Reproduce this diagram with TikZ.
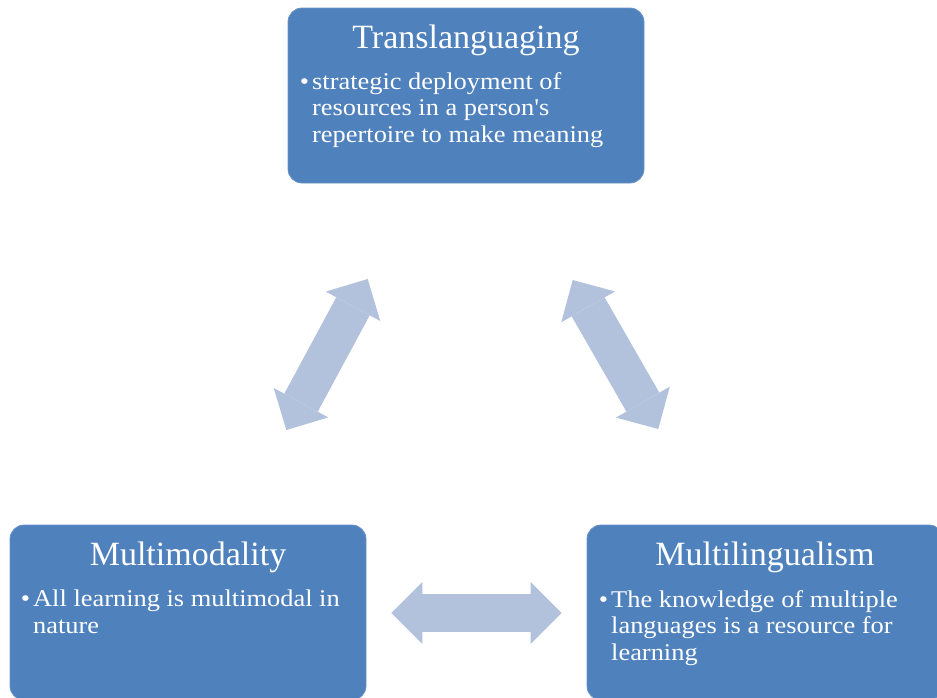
\documentclass[tikz,border=0pt]{standalone}
\usepackage{fontspec}
\setmainfont{Liberation Serif}
\newfontfamily\pointfont{Liberation Serif}[FakeStretch=1.1]
\usetikzlibrary{arrows.meta}
\definecolor{boxblue}{HTML}{4F81BD}
\definecolor{boxedge}{HTML}{6A94C8}
\definecolor{linkblue}{HTML}{B2C2DD}
\tikzset{
topic/.style={draw=boxedge, line width=0.8pt, fill=boxblue, rounded corners=14pt,
  minimum width=356pt, minimum height=175pt, inner sep=0pt},
heading/.style={text=white, font=\fontsize{34}{40}\selectfont, anchor=base, inner sep=0pt},
point/.style={text=white, font=\pointfont\fontsize{24}{26.5}\selectfont, align=left,
  anchor=north west, inner sep=0pt},
link/.style={linkblue, line width=38pt,
  {Triangle[width=62pt,length=31pt,line width=0pt]}-{Triangle[width=62pt,length=31pt,line width=0pt]}}
}
\newcommand{\bulletmark}{\llap{\textbullet\hspace{3pt}}}

\begin{document}
\begin{tikzpicture}[x=1pt,y=-1pt]
\useasboundingbox (0,0) rectangle (937,697);

% the three boxes
\node[topic] (trans) at (466,95.5) {};
\node[topic] (modal) at (188,612.5) {};
\node[topic] (lingual) at (765,612.5) {};

\node[heading] (transhead) at (466,48) {Translanguaging};
\node[heading] (modalhead) at (188,565) {Multimodality};
\node[heading] (lingualhead) at (765,565) {Multilingualism};

\node[point] (transtext) at (312,72) {\bulletmark strategic deployment of\\
  resources in a person's\\repertoire to make meaning};
\node[point] (modaltext) at (33,590) {\bulletmark All learning is multimodal in\\nature};
\node[point] (lingualtext) at (611,590) {\bulletmark The knowledge of multiple\\
  languages is a resource for\\learning};

% double arrows between the boxes
\coordinate (trans-modal) at (367.7,279);
\coordinate (modal-trans) at (286.3,430);
\coordinate (trans-lingual) at (572.7,280);
\coordinate (lingual-trans) at (658.3,429);
\coordinate (modal-lingual) at (391.4,613);
\coordinate (lingual-modal) at (561.7,613);

\draw[link] (modal-trans) -- (trans-modal);
\draw[link] (trans-lingual) -- (lingual-trans);
\draw[link] (modal-lingual) -- (lingual-modal);

\end{tikzpicture}
\end{document}
